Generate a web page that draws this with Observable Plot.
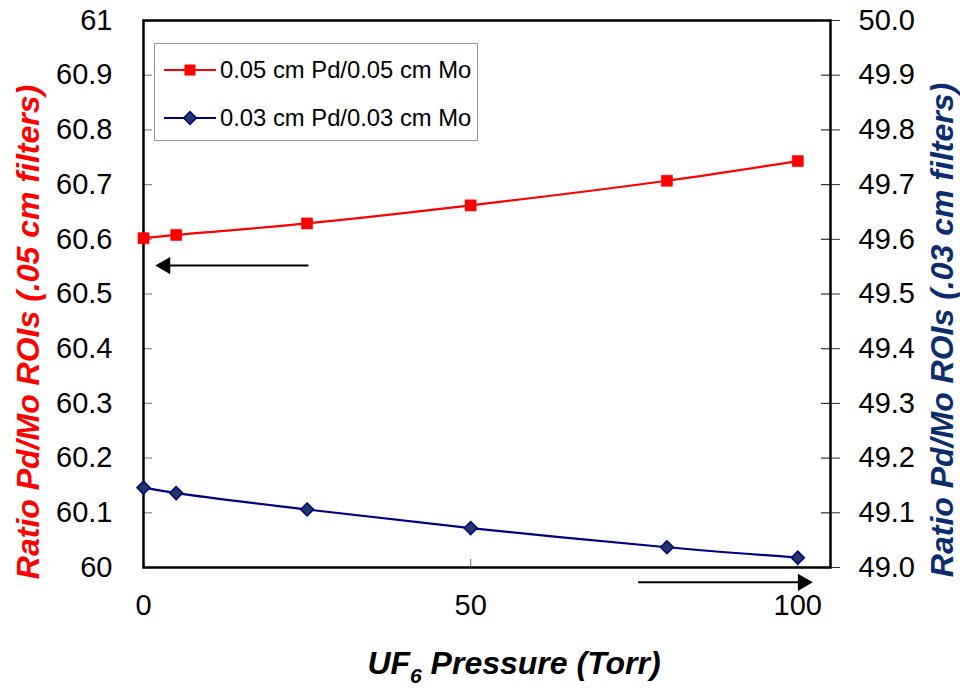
<!DOCTYPE html>
<html><head><meta charset="utf-8">
<script src="https://cdn.jsdelivr.net/npm/d3@7"></script>
<script src="https://cdn.jsdelivr.net/npm/@observablehq/plot@0.6"></script>
<style>
body{margin:0;background:#fff;font-family:Arial,"Liberation Sans",sans-serif;}
#wrap{position:relative;width:960px;height:688px;overflow:hidden;}
.ttl{position:absolute;font-weight:bold;font-style:italic;font-size:32px;white-space:nowrap;line-height:1;transform:translate(-50%,-50%);}
.rot{transform:translate(-50%,-50%) rotate(-90deg);}
#legend{position:absolute;left:154px;top:43px;width:324px;height:98px;box-sizing:border-box;border:1.5px solid #9a9a9a;background:#fff;}
.lrow{position:absolute;left:8px;height:30px;display:flex;align-items:center;font-size:23.8px;color:#000;white-space:nowrap;}
.lrow svg{margin-right:3px;}
</style></head><body><div id="wrap"></div>
<script>
// ---- data ----
const pressure = [0, 5, 25, 50, 80, 100];
const ratio05 = [60.602, 60.608, 60.629, 60.662, 60.707, 60.743];
const ratio03 = [49.146, 49.136, 49.106, 49.072, 49.037, 49.018];
const seriesNames = ["0.05 cm Pd/0.05 cm Mo", "0.03 cm Pd/0.03 cm Mo"];
const xTicks = [0, 50, 100];
const leftTicks = [60, 60.1, 60.2, 60.3, 60.4, 60.5, 60.6, 60.7, 60.8, 60.9, 61];
const rightTicks = [49.0, 49.1, 49.2, 49.3, 49.4, 49.5, 49.6, 49.7, 49.8, 49.9, 50.0];
// annotation arrows (data units: pressure, left-axis ratio)
const arrowTailX = [25.2, 75.6];
const arrowTipX = [1.8, 102.3];
const arrowY = [60.552, 59.973];
const arrowDir = [-1, 1];

const OFFSET = 11; // right axis value + 11 = left axis value
const RED = "#FF0000", NAVY = "#000080", MFILL = "#1F3864";

const s05 = pressure.map((x, i) => ({x, y: ratio05[i]}));
const s03 = pressure.map((x, i) => ({x, y: ratio03[i] + OFFSET}));
const arrows = arrowTailX.map((t, i) => ({t, tip: arrowTipX[i], y: arrowY[i], d: arrowDir[i]}));

const W = 960, H = 688, mL = 143, mR = 130, mT = 20, mB = 121;
const fw = W - mL - mR, fh = H - mT - mB;
const pxPerX = fw / 105;

const chart = Plot.plot({
  width: W, height: H,
  marginLeft: mL, marginRight: mR, marginTop: mT, marginBottom: mB,
  style: {fontFamily: "Arial, 'Liberation Sans', sans-serif", fontSize: "29px", background: "white", color: "black"},
  x: {domain: [0, 105]},
  y: {domain: [60, 61]},
  marks: [
    // inward ticks
    Plot.tickY(leftTicks, {y: d => d, insetRight: fw - 9, stroke: "#888", strokeWidth: 1.2}),
    Plot.tickY(rightTicks.map(v => v + OFFSET), {y: d => d, insetLeft: fw - 9, stroke: "#333", strokeWidth: 1.2}),
    Plot.tickX(xTicks, {x: d => d, insetTop: fh - 8, stroke: "#888", strokeWidth: 1.2}),
    Plot.axisY({anchor: "left", ticks: leftTicks, tickSize: 0, tickPadding: 31, fontSize: 29,
      tickFormat: d => String(+d.toFixed(1)), label: null}),
    Plot.axisY({anchor: "right", ticks: rightTicks.map(v => v + OFFSET), tickSize: 9, tickPadding: 19, fontSize: 29,
      stroke: "#333", tickFormat: d => (d - OFFSET).toFixed(1), label: null}),
    Plot.axisX({ticks: xTicks, tickSize: 0, tickPadding: 27, fontSize: 29, tickFormat: d => String(d), label: null}),
    Plot.frame({stroke: "black", strokeWidth: 2.5}),
    // series
    Plot.line(s05, {x: "x", y: "y", stroke: RED, strokeWidth: 2.2, curve: "catmull-rom"}),
    Plot.dot(s05, {x: "x", y: "y", symbol: "square", r: 6.3, fill: RED, stroke: RED, strokeWidth: 0.5}),
    Plot.line(s03, {x: "x", y: "y", stroke: NAVY, strokeWidth: 2.2, curve: "catmull-rom"}),
    Plot.dot(s03, {x: "x", y: "y", symbol: "square", rotate: 45, r: 5.2, fill: MFILL, stroke: NAVY, strokeWidth: 1.5}),
    // arrows
    Plot.link(arrows, {x1: "t", x2: d => d.tip - d.d * 1.0, y1: "y", y2: "y", stroke: "black", strokeWidth: 2}),
    Plot.dot(arrows, {x: d => d.tip - d.d * (10 / pxPerX), y: "y", symbol: "triangle", r: 6.4,
      rotate: d => d.d > 0 ? 90 : -90, fill: "black", stroke: "none"})
  ]
});

const wrap = document.getElementById("wrap");
wrap.appendChild(chart);

function addDiv(cls, html, css) {
  const d = document.createElement("div");
  d.className = cls; d.innerHTML = html; Object.assign(d.style, css);
  wrap.appendChild(d); return d;
}
addDiv("ttl rot", "Ratio Pd/Mo ROIs (.05 cm filters)", {left: "28px", top: "332px", color: RED});
addDiv("ttl rot", "Ratio Pd/Mo ROIs (.03 cm filters)", {left: "942px", top: "330px", color: "#0c2c6e"});
addDiv("ttl", 'UF<span style="font-size:21px;position:relative;top:9px">6</span> Pressure (Torr)', {left: "514px", top: "663px", color: "#000"});

const legend = addDiv("", "", {});
legend.id = "legend";
const swSquare = `<svg width="54" height="20"><line x1="1" y1="10" x2="53" y2="10" stroke="${RED}" stroke-width="2.2"/><rect x="21.5" y="4.5" width="11" height="11" fill="${RED}"/></svg>`;
const swDiamond = `<svg width="54" height="20"><line x1="1" y1="10" x2="53" y2="10" stroke="${NAVY}" stroke-width="2.2"/><rect x="22.5" y="5.5" width="9" height="9" fill="${MFILL}" stroke="${NAVY}" stroke-width="1.5" transform="rotate(45 27 10)"/></svg>`;
const r1 = document.createElement("div"); r1.className = "lrow"; r1.style.top = (69 - 43 - 15) + "px";
r1.innerHTML = swSquare + "<span>" + seriesNames[0] + "</span>";
const r2 = document.createElement("div"); r2.className = "lrow"; r2.style.top = (117 - 43 - 15) + "px";
r2.innerHTML = swDiamond + "<span>" + seriesNames[1] + "</span>";
legend.appendChild(r1); legend.appendChild(r2);
</script></body></html>
